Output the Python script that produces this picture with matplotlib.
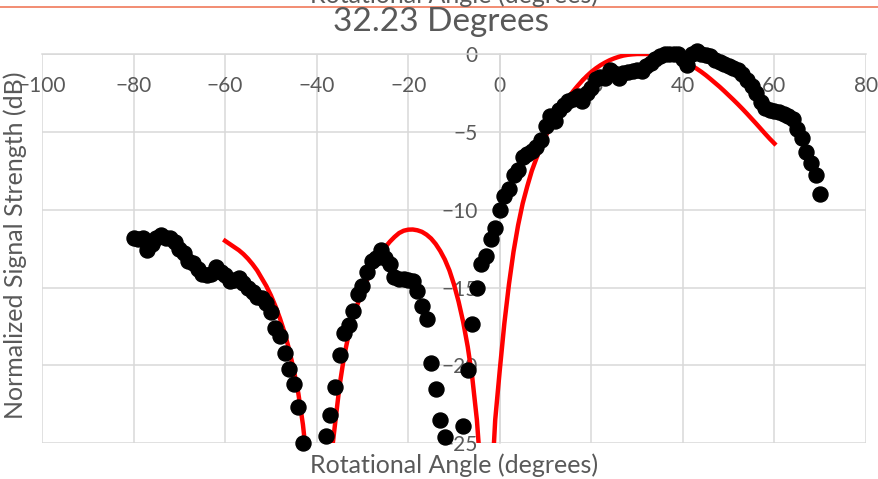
import numpy as np
import matplotlib
matplotlib.use("Agg")
import matplotlib.pyplot as plt
from matplotlib.lines import Line2D

# measured points (black dots)
meas_angle = [-80, -79, -78, -77, -76, -75, -74, -73, -72, -71, -70, -69, -68, -67, -66,
              -65, -64, -63, -62, -61, -60, -59, -58, -57, -56, -55, -54, -53, -52, -51,
              -50, -49, -48, -47, -46, -45, -44, -43,
              -38, -37, -36, -35, -34, -33, -32, -31, -30, -29, -28, -27, -26, -25, -24,
              -23, -22, -21, -20, -19, -18, -17, -16, -15, -14, -13, -12,
              -8, -7, -6, -5, -4, -3, -2, -1, 0, 1, 2, 3, 4, 5, 6, 7, 8, 9, 10,
              11, 12, 13, 14, 15, 16, 17, 18, 19, 20, 21, 22, 23, 24, 25, 26, 27, 28,
              29, 30, 31, 32, 33, 34, 35, 36, 37, 38, 39, 40, 41, 42, 43, 44, 45, 46,
              47, 48, 49, 50, 51, 52, 53, 54, 55, 56, 57, 58, 59, 60, 61, 62, 63, 64,
              65, 66, 67, 68, 69, 70]
meas_db = [-11.8, -11.9, -11.8, -12.6, -12.2, -11.8, -11.6, -11.8, -11.8, -12.1, -12.5,
           -12.8, -13.3, -13.4, -13.8, -14.1, -14.2, -14.1, -13.7, -14.0, -14.2, -14.6,
           -14.5, -14.4, -14.7, -15.0, -15.3, -15.6, -15.7, -16.0, -16.6, -17.6, -18.1,
           -19.2, -20.2, -21.2, -22.7, -25.0,
           -24.5, -23.2, -21.4, -19.3, -17.9, -17.4, -16.5, -15.4, -14.9, -14.0, -13.3,
           -13.1, -12.6, -13.1, -13.5, -14.3, -14.45, -14.45, -14.5, -14.6, -15.2, -16.2,
           -17.0, -19.85, -21.5, -23.5, -24.6,
           -23.9, -20.3, -17.35, -15.0, -13.5, -13.0, -11.85, -11.2, -10.0, -9.15, -8.7,
           -7.8, -7.45, -6.6, -6.4, -6.2, -5.95, -5.5, -4.6, -4.0, -4.3, -3.6, -3.3, -3.0,
           -2.9, -2.7, -3.05, -2.5, -2.2, -1.6, -1.45, -1.55, -1.0, -1.2, -1.55, -1.25,
           -1.15, -1.1, -1.0, -1.1, -0.75, -0.55, -0.35, -0.1, 0.0, 0.0, 0.0, 0.0, -0.3,
           -0.7, 0.0, 0.2, 0.0, -0.05, -0.15, -0.4, -0.5, -0.65, -0.75, -0.9, -1.05, -1.3,
           -1.65, -2.05, -2.5, -3.1, -3.45, -3.6, -3.65, -3.7, -3.85, -4.0, -4.2, -4.8,
           -5.4, -6.3, -7.0, -7.8, -9.0]

# theoretical pattern (red line), one value per degree from -60 to 60
theory_angle = list(range(-60, 61))
theory_db = [-12.0, -12.2, -12.4, -12.6, -12.85, -13.15, -13.5, -13.9, -14.4, -14.9,
             -15.5, -16.2, -17.0, -17.9, -19.0, -20.3, -21.8, -23.8, -26.5, -31.0,
             -40.0, -33.0, -29.0, -26.3, -23.8, -21.3, -19.4, -18.0, -16.9, -16.0,
             -15.2, -14.5, -13.9, -13.3, -12.8, -12.4, -12.05, -11.75, -11.5, -11.35,
             -11.28, -11.27, -11.32, -11.42, -11.6, -11.85, -12.2, -12.65, -13.2, -13.9,
             -14.8, -15.9, -17.2, -18.8, -20.8, -23.5, -27.5, -38.0, -29.0, -23.5,
             -20.3, -17.3, -14.8, -12.7, -11.0, -9.6, -8.5, -7.5, -6.7, -5.95,
             -5.3, -4.7, -4.15, -3.65, -3.2, -2.8, -2.4, -2.05, -1.72, -1.42,
             -1.15, -0.92, -0.72, -0.55, -0.4, -0.28, -0.18, -0.1, -0.05, -0.02,
             0.0, 0.0, 0.0, 0.0, -0.02, -0.05, -0.1, -0.16, -0.24, -0.34,
             -0.46, -0.6, -0.76, -0.94, -1.14, -1.36, -1.6, -1.85, -2.1, -2.37,
             -2.65, -2.93, -3.22, -3.52, -3.83, -4.15, -4.47, -4.8, -5.13, -5.45,
             -5.75]

x_ticks = list(range(-100, 81, 20))
y_ticks = [0, -5, -10, -15, -20, -25]

title_text = "32.23 Degrees"
x_label = "Rotational Angle (degrees)"
y_label = "Normalized Signal Strength (dB)"

text_gray = "#595959"
grid_gray = "#D9D9D9"
plt.rcParams['font.family'] = ['Lato', 'DejaVu Sans']

W, H = 879, 479
fig = plt.figure(figsize=(W / 100, H / 100), dpi=100)
ax = fig.add_axes([42 / W, 1 - 443.3 / H, (866 - 42) / W, (443.3 - 54) / H])

ax.plot(theory_angle, theory_db, color="#FF0000", lw=3.2, zorder=3,
        solid_joinstyle='round')
ax.plot(meas_angle, meas_db, 'o', color="black", ms=10.8, zorder=4, clip_on=False)

ax.set_xlim(-100, 80)
ax.set_ylim(-25, 0)
ax.set_xticks(x_ticks)
ax.set_yticks(y_ticks)
ax.grid(True, color=grid_gray, lw=1.1)
ax.set_axisbelow(True)

# axes cross at (0, 0) like Excel
ax.spines['bottom'].set_position(('data', 0))
ax.spines['left'].set_position(('data', 0))
ax.spines['top'].set_visible(False)
ax.spines['right'].set_visible(False)
for s in ['bottom', 'left']:
    ax.spines[s].set_color(grid_gray)
    ax.spines[s].set_linewidth(1.1)
    ax.spines[s].set_zorder(1)

ax.tick_params(axis='both', length=0, labelsize=15, labelcolor=text_gray)
ax.tick_params(axis='x', pad=16)
ax.tick_params(axis='y', pad=16)

fig.text(441 / W, 1 - 22 / H, title_text, ha='center', va='center', fontsize=24, color=text_gray)
fig.text(454 / W, 1 - 465 / H, x_label, ha='center', va='center', fontsize=18, color=text_gray)
fig.text(15 / W, 1 - 245 / H, y_label, ha='center', va='center', rotation=90, fontsize=18,
         color=text_gray)
# the clipped duplicate axis title at the very top
fig.text(454 / W, 1 - 3 / H, x_label, ha='center', va='baseline', fontsize=18, color=text_gray)
fig.add_artist(Line2D([0, 1], [1 - 6.5 / H, 1 - 6.5 / H], transform=fig.transFigure,
                      color="#F0795A", lw=1.2))

fig.savefig("out.png", dpi=100)
